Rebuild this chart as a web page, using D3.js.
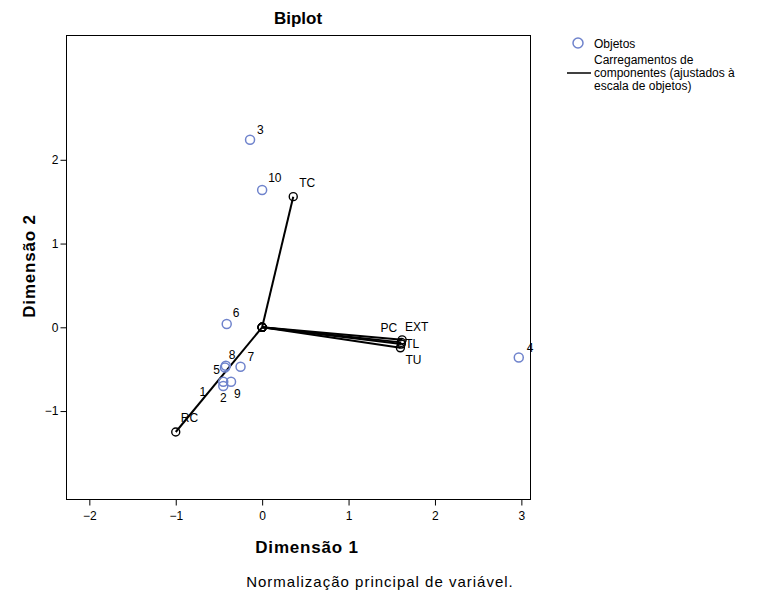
<!DOCTYPE html>
<html>
<head>
<meta charset="utf-8">
<script src="https://cdn.jsdelivr.net/npm/d3@7/dist/d3.min.js"></script>
<style>
  body { margin: 0; background: #fff; }
  text { font-family: "Liberation Sans", Arial, sans-serif; }
</style>
</head>
<body>
<div id="chart"></div>
<script>
// objects (row points)
var objLabels = ["1", "2", "3", "4", "5", "6", "7", "8", "9", "10"];
var objX = [-0.45, -0.45, -0.14, 2.97, -0.43, -0.41, -0.25, -0.42, -0.36, 0.00];
var objY = [-0.65, -0.70, 2.24, -0.36, -0.48, 0.04, -0.47, -0.46, -0.65, 1.64];

// component loadings (scaled to objects)
var loadNames = ["TC", "RC", "PC", "EXT", "TL", "TU"];
var loadX = [0.36, -1.00, 1.61, 1.62, 1.61, 1.60];
var loadY = [1.56, -1.25, -0.18, -0.15, -0.20, -0.245];

var xTicks = [-2, -1, 0, 1, 2, 3];
var yTicks = [-1, 0, 1, 2];

// label placement relative to the marker: [dx, dy, anchor]
var objLabelPos = {
    "1": [-17, 14, "end"], "2": [0, 16, "middle"], "3": [7, -6, "start"],
    "4": [8, -5, "start"], "5": [-5, 6, "end"], "6": [6, -7, "start"],
    "7": [7, -6, "start"], "8": [3, -7, "start"], "9": [3, 16, "start"],
    "10": [6, -8, "start"]
};
var loadLabelPos = {
    "TC": [6, -10, "start"], "RC": [5, -10, "start"], "PC": [-4, -10, "end"],
    "EXT": [3, -9, "start"], "TL": [4, 4, "start"], "TU": [5, 16, "start"]
};

var W = 757, H = 593;
var margin = {left: 66, right: 227, top: 35, bottom: 94};
var pw = W - margin.left - margin.right,
    ph = H - margin.top - margin.bottom;

var svg = d3.select("#chart").append("svg").attr("width", W).attr("height", H);

var x = d3.scaleLinear().domain([-2.27, 3.10]).range([0, pw]);
var y = d3.scaleLinear().domain([-2.05, 3.49]).range([ph, 0]);

var g = svg.append("g").attr("transform", "translate(" + margin.left + "," + margin.top + ")");

// frame
g.append("rect")
    .attr("x", 0.5).attr("y", 0.5)
    .attr("width", pw).attr("height", ph)
    .attr("fill", "none").attr("stroke", "#000").attr("stroke-width", 1);

var xAxis = g.append("g")
    .attr("transform", "translate(0," + (ph + 0.5) + ")")
    .call(d3.axisBottom(x).tickValues(xTicks).tickSize(6).tickPadding(6).tickFormat(d3.format("d")));
var yAxis = g.append("g")
    .attr("transform", "translate(0.5,0)")
    .call(d3.axisLeft(y).tickValues(yTicks).tickSize(6).tickPadding(2).tickFormat(d3.format("d")));
[xAxis, yAxis].forEach(function (a) {
    a.select(".domain").remove();
    a.selectAll("line").attr("stroke", "#000");
    a.selectAll("text").attr("font-size", 12).attr("fill", "#000")
        .style("font-family", "'Liberation Sans', Arial, sans-serif");
});

// loading vectors
var loads = loadNames.map(function (n, i) { return {name: n, x: loadX[i], y: loadY[i]}; });
g.selectAll(".vec").data(loads).enter().append("line")
    .attr("class", "vec")
    .attr("x1", x(0)).attr("y1", y(0))
    .attr("x2", function (d) { return x(d.x); })
    .attr("y2", function (d) { return y(d.y); })
    .attr("stroke", "#000").attr("stroke-width", 2);
g.selectAll(".vorig").data(loads).enter().append("circle")
    .attr("cx", x(0)).attr("cy", y(0)).attr("r", 4)
    .attr("fill", "none").attr("stroke", "#000").attr("stroke-width", 1.4);
g.selectAll(".vend").data(loads).enter().append("circle")
    .attr("cx", function (d) { return x(d.x); })
    .attr("cy", function (d) { return y(d.y); })
    .attr("r", 4)
    .attr("fill", "none").attr("stroke", "#000").attr("stroke-width", 1.4);
g.selectAll(".vlab").data(loads).enter().append("text")
    .attr("x", function (d) { return x(d.x) + loadLabelPos[d.name][0]; })
    .attr("y", function (d) { return y(d.y) + loadLabelPos[d.name][1]; })
    .attr("text-anchor", function (d) { return loadLabelPos[d.name][2]; })
    .attr("font-size", 12).attr("fill", "#000")
    .text(function (d) { return d.name; });

// objects
var objs = objLabels.map(function (l, i) { return {label: l, x: objX[i], y: objY[i]}; });
g.selectAll(".obj").data(objs).enter().append("circle")
    .attr("cx", function (d) { return x(d.x); })
    .attr("cy", function (d) { return y(d.y); })
    .attr("r", 4.5)
    .attr("fill", "none").attr("stroke", "#6f83cc").attr("stroke-width", 1.5);
g.selectAll(".olab").data(objs).enter().append("text")
    .attr("x", function (d) { return x(d.x) + objLabelPos[d.label][0]; })
    .attr("y", function (d) { return y(d.y) + objLabelPos[d.label][1]; })
    .attr("text-anchor", function (d) { return objLabelPos[d.label][2]; })
    .attr("font-size", 12).attr("fill", "#000")
    .text(function (d) { return d.label; });

// titles
svg.append("text").attr("x", margin.left + pw / 2).attr("y", 24)
    .attr("text-anchor", "middle").attr("font-size", 17).attr("font-weight", "bold").text("Biplot");
svg.append("text").attr("x", 307).attr("y", 553)
    .attr("text-anchor", "middle").attr("font-size", 17).attr("font-weight", "bold")
    .attr("letter-spacing", 0.8).text("Dimensão 1");
svg.append("text").attr("transform", "translate(35,266) rotate(-90)")
    .attr("text-anchor", "middle").attr("font-size", 17).attr("font-weight", "bold")
    .attr("letter-spacing", 0.8).text("Dimensão 2");
svg.append("text").attr("x", 380).attr("y", 587)
    .attr("text-anchor", "middle").attr("font-size", 15).attr("letter-spacing", 1)
    .text("Normalização principal de variável.");

// legend
var lg = svg.append("g");
lg.append("circle").attr("cx", 578).attr("cy", 43).attr("r", 5)
    .attr("fill", "none").attr("stroke", "#6f83cc").attr("stroke-width", 1.5);
lg.append("text").attr("x", 594).attr("y", 48).attr("font-size", 12).text("Objetos");
lg.append("line").attr("x1", 567).attr("x2", 591).attr("y1", 73).attr("y2", 73)
    .attr("stroke", "#000").attr("stroke-width", 1.5);
["Carregamentos de", "componentes (ajustados à", "escala de objetos)"].forEach(function (t, i) {
    lg.append("text").attr("x", 594).attr("y", 64 + i * 13).attr("font-size", 12).text(t);
});
</script>
</body>
</html>
